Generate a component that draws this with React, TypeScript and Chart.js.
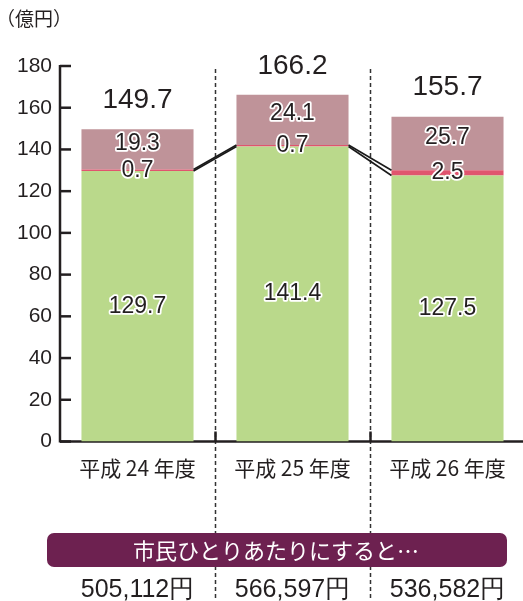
import React, { useEffect, useRef } from "react";
import { Chart, registerables } from "chart.js";

Chart.register(...registerables);

const categories = ["平成 24 年度", "平成 25 年度", "平成 26 年度"];
const generalValues = [129.7, 141.4, 127.5];
const redValues = [0.7, 0.7, 2.5];
const mauveValues = [19.3, 24.1, 25.7];
const totalValues = [149.7, 166.2, 155.7];
const perCapitaLabels = ["505,112円", "566,597円", "536,582円"];
const yMin = 0;
const yMax = 180;
const yStep = 20;
const unitLabel = "（億円）";
const bannerText = "市民ひとりあたりにすると…";

const GREEN = "#bad98b";
const RED = "#e0546e";
const MAUVE = "#bf9399";
const BANNER = "#6d2150";
const INK = "#231f20";
const NUM_FONT = '"Liberation Sans", Arial, sans-serif';
const JP_FONT = '"Noto Sans CJK JP", sans-serif';

const customPlugin = {
  id: "customDraw",
  beforeDatasetsDraw(chart: any) {
    const ctx = chart.ctx;
    const xs = chart.scales.x;
    const ys = chart.scales.y;
    const { left, right, bottom } = chart.chartArea;
    const n = categories.length;
    ctx.save();
    ctx.strokeStyle = "#333";
    ctx.lineWidth = 1.5;
    ctx.setLineDash([4, 3]);
    const topY = ys.getPixelForValue(yMax) + 3;
    for (let i = 0; i < n - 1; i++) {
      const bx = Math.round((xs.getPixelForValue(i) + xs.getPixelForValue(i + 1)) / 2) + 0.5;
      ctx.beginPath();
      ctx.moveTo(bx, topY);
      ctx.lineTo(bx, chart.height);
      ctx.stroke();
    }
    ctx.setLineDash([]);
    ctx.strokeStyle = INK;
    ctx.lineWidth = 2.5;
    ctx.beginPath();
    ctx.moveTo(left, bottom);
    ctx.lineTo(right, bottom);
    ctx.stroke();
    for (let i = 0; i < n - 1; i++) {
      const bx = Math.round((xs.getPixelForValue(i) + xs.getPixelForValue(i + 1)) / 2) + 0.5;
      ctx.beginPath();
      ctx.moveTo(bx, bottom);
      ctx.lineTo(bx, bottom - 10);
      ctx.stroke();
    }
    ctx.beginPath();
    ctx.moveTo(left, ys.getPixelForValue(yMax) - 1);
    ctx.lineTo(left, bottom + 1);
    ctx.stroke();
    for (let v = yMin; v <= yMax; v += yStep) {
      const py = ys.getPixelForValue(v);
      ctx.beginPath();
      ctx.moveTo(left, py);
      ctx.lineTo(left + 11, py);
      ctx.stroke();
    }
    ctx.restore();
  },
  afterDatasetsDraw(chart: any) {
    const ctx = chart.ctx;
    const ys = chart.scales.y;
    const n = categories.length;
    const m0 = chart.getDatasetMeta(0).data;
    const m1 = chart.getDatasetMeta(1).data;
    const m2 = chart.getDatasetMeta(2).data;
    ctx.save();
    ctx.strokeStyle = "#1a1a1a";
    ctx.lineWidth = 1.6;
    for (const meta of [m0, m1]) {
      for (let i = 0; i < n - 1; i++) {
        const a = meta[i];
        const b = meta[i + 1];
        ctx.beginPath();
        ctx.moveTo(a.x + a.width / 2, a.y);
        ctx.lineTo(b.x - b.width / 2, b.y);
        ctx.stroke();
      }
    }
    const drawOutlined = (text: string, x: number, y: number) => {
      ctx.font = `23px ${NUM_FONT}`;
      ctx.textAlign = "center";
      ctx.textBaseline = "middle";
      ctx.lineJoin = "round";
      ctx.strokeStyle = "#ffffff";
      ctx.lineWidth = 3.5;
      ctx.strokeText(text, x, y);
      ctx.fillStyle = INK;
      ctx.fillText(text, x, y);
    };
    for (let i = 0; i < n; i++) {
      const g = m0[i];
      drawOutlined(String(generalValues[i]), g.x, (g.y + g.base) / 2);
      const r = m1[i];
      drawOutlined(String(redValues[i]), r.x, (r.y + r.base) / 2);
      const mv = m2[i];
      drawOutlined(String(mauveValues[i]), mv.x, (mv.y + mv.base) / 2 - 6);
      ctx.font = `28px ${NUM_FONT}`;
      ctx.fillStyle = INK;
      ctx.textAlign = "center";
      ctx.textBaseline = "middle";
      ctx.fillText(totalValues[i].toFixed(1), mv.x, ys.getPixelForValue(totalValues[i]) - 29);
    }
    ctx.restore();
  },
  afterDraw(chart: any) {
    const ctx = chart.ctx;
    const xs = chart.scales.x;
    ctx.save();
    ctx.font = `19px ${JP_FONT}`;
    ctx.fillStyle = INK;
    ctx.textAlign = "left";
    ctx.textBaseline = "middle";
    ctx.fillText(unitLabel, -4, 19);
    const bx = 47, by = 533, bw = 460, bh = 34, r = 7;
    ctx.fillStyle = BANNER;
    ctx.beginPath();
    ctx.moveTo(bx + r, by);
    ctx.arcTo(bx + bw, by, bx + bw, by + bh, r);
    ctx.arcTo(bx + bw, by + bh, bx, by + bh, r);
    ctx.arcTo(bx, by + bh, bx, by, r);
    ctx.arcTo(bx, by, bx + bw, by, r);
    ctx.closePath();
    ctx.fill();
    ctx.fillStyle = "#ffffff";
    ctx.font = `22px ${JP_FONT}`;
    ctx.textAlign = "center";
    ctx.fillText(bannerText, bx + bw / 2 - 1, by + bh / 2 + 1);
    ctx.fillStyle = INK;
    ctx.font = `25px ${NUM_FONT}`;
    for (let i = 0; i < perCapitaLabels.length; i++) {
      ctx.fillText(perCapitaLabels[i], xs.getPixelForValue(i), 590);
    }
    ctx.restore();
  },
};

export default function App() {
  const canvasRef = useRef<HTMLCanvasElement | null>(null);

  useEffect(() => {
    document.body.style.margin = "0";
    document.body.style.overflow = "hidden";
    document.documentElement.style.overflow = "hidden";
    const canvas = canvasRef.current;
    if (!canvas) return;
    const chart = new Chart(canvas, {
      type: "bar",
      data: {
        labels: categories,
        datasets: [
          { label: "a", data: generalValues, backgroundColor: GREEN, borderWidth: 0 },
          { label: "b", data: redValues, backgroundColor: RED, borderWidth: 0 },
          { label: "c", data: mauveValues, backgroundColor: MAUVE, borderWidth: 0 },
        ],
      },
      options: {
        animation: false,
        responsive: true,
        maintainAspectRatio: false,
        events: [],
        layout: { padding: { top: 66, right: 1, left: 0, bottom: 0 } },
        plugins: {
          legend: { display: false },
          tooltip: { enabled: false },
        },
        datasets: { bar: { categoryPercentage: 0.723, barPercentage: 1 } },
        scales: {
          x: {
            stacked: true,
            grid: { display: false, drawTicks: false },
            border: { display: false },
            ticks: {
              color: INK,
              font: { family: JP_FONT, size: 21 },
              padding: 14,
            },
            afterFit: (s: any) => {
              s.height = 159.5;
            },
          },
          y: {
            stacked: true,
            min: yMin,
            max: yMax,
            grid: { display: false, drawTicks: false },
            border: { display: false },
            ticks: {
              stepSize: yStep,
              color: INK,
              font: { family: NUM_FONT, size: 21 },
              padding: 8,
            },
            afterFit: (s: any) => {
              s.width = 60;
            },
          },
        },
      },
      plugins: [customPlugin],
    });
    return () => chart.destroy();
  }, []);

  return (
    <div style={{ width: 523, height: 601, overflow: "hidden", position: "relative" }}>
      <div style={{ width: 526, height: 601, position: "relative" }}>
        <canvas ref={canvasRef} />
      </div>
    </div>
  );
}
